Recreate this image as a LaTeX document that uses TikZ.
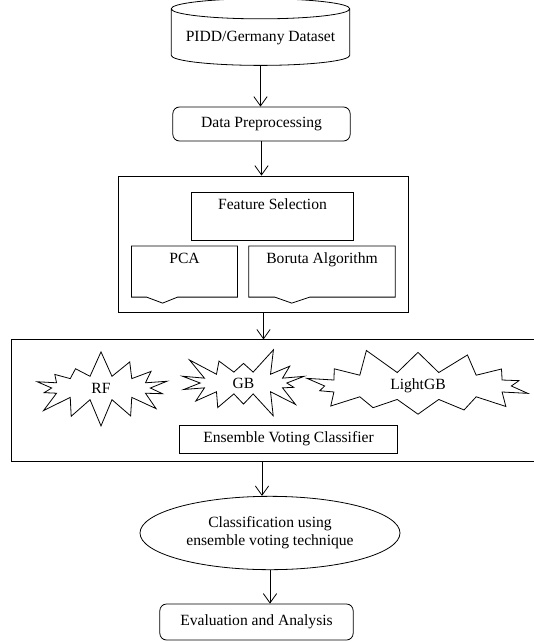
\documentclass[tikz,border=0pt]{standalone}
\usepackage{fontspec}
\setmainfont{Liberation Serif}
\usetikzlibrary{shapes.geometric, shapes.symbols, calc, arrows.meta}

\tikzset{
  txt/.style={font=\fontsize{11.7}{13.5}\selectfont},
  box/.style={txt, draw, line width=0.6pt, inner sep=2pt},
  roundbox/.style={box, rounded corners=5pt},
  burst/.style={box, starburst, starburst points=14, starburst point height=20pt},
  arr/.style={line width=0.6pt, ->, >={Straight Barb[length=7pt, width=10pt]}},
}

\begin{document}
\begin{tikzpicture}[x=0.75pt, y=-0.75pt]
\useasboundingbox (0,0) rectangle (534,642);

% data source and preprocessing
\node[box, cylinder, shape border rotate=90, aspect=0.13, minimum width=134pt, minimum height=50pt] (data) at (260.5,38.5) {PIDD/Germany Dataset};
\node[roundbox, minimum width=133pt, minimum height=25.5pt] (prep) at (261.5,124) {Data Preprocessing};

% feature selection block
\node[box, minimum width=218pt, minimum height=102pt] (fsbox) at (263.5,244) {};
\node[box, minimum width=121pt, text height=9pt, text depth=19pt, inner ysep=4pt] (fs) at (272.5,216) {Feature Selection};
\node[txt, minimum width=79pt, minimum height=38pt, text height=9pt, text depth=21pt, inner sep=4pt] (pca) at (184.5,271.5) {PCA};
\node[txt, minimum width=109.5pt, minimum height=38pt, text height=9pt, text depth=21pt, inner sep=4pt] (boruta) at (322,271.5) {Boruta Algorithm};
\draw[line width=0.6pt] (pca.south west) -- (pca.north west) -- (pca.north east) -- (pca.south east)
  -- ($(pca.south west)+(46,0)$) -- ($(pca.south west)+(31,6)$) -- ($(pca.south west)+(15,0)$) -- cycle;
\draw[line width=0.6pt] (boruta.south west) -- (boruta.north west) -- (boruta.north east) -- (boruta.south east)
  -- ($(boruta.south west)+(61,0)$) -- ($(boruta.south west)+(43,6)$) -- ($(boruta.south west)+(26,0)$) -- cycle;

% ensemble block
\node[box, minimum width=400.5pt, minimum height=91pt] (ensbox) at (278,400.5) {};
\node[burst, minimum width=114pt, minimum height=58pt, random starburst=7] (rf) at (101,388) {RF};
\node[burst, minimum width=105pt, minimum height=55pt, random starburst=3] (gb) at (243.5,383) {GB};
\node[burst, minimum width=180pt, minimum height=56pt, random starburst=11] (lgb) at (418,386) {LightGB};
\node[box, minimum width=163pt, minimum height=21pt] (evc) at (288.5,439) {Ensemble Voting Classifier};

% classification and evaluation
\node[box, ellipse, minimum width=195pt, minimum height=55pt, align=center] (cls) at (270,533) {Classification using\\ensemble voting technique};
\node[roundbox, minimum width=145pt, minimum height=27pt] (eval) at (256.5,622) {Evaluation and Analysis};

\draw[arr] (data.south) -- (data.south |- prep.north);
\draw[arr] (prep.south) -- (prep.south |- fsbox.north);
\draw[arr] (fsbox.south) -- (fsbox.south |- ensbox.north);
\draw[arr] (ensbox.south -| 262,0) -- (cls.north -| 262,0);
\draw[arr] (cls.south) -- (cls.south |- eval.north);

\end{tikzpicture}
\end{document}
